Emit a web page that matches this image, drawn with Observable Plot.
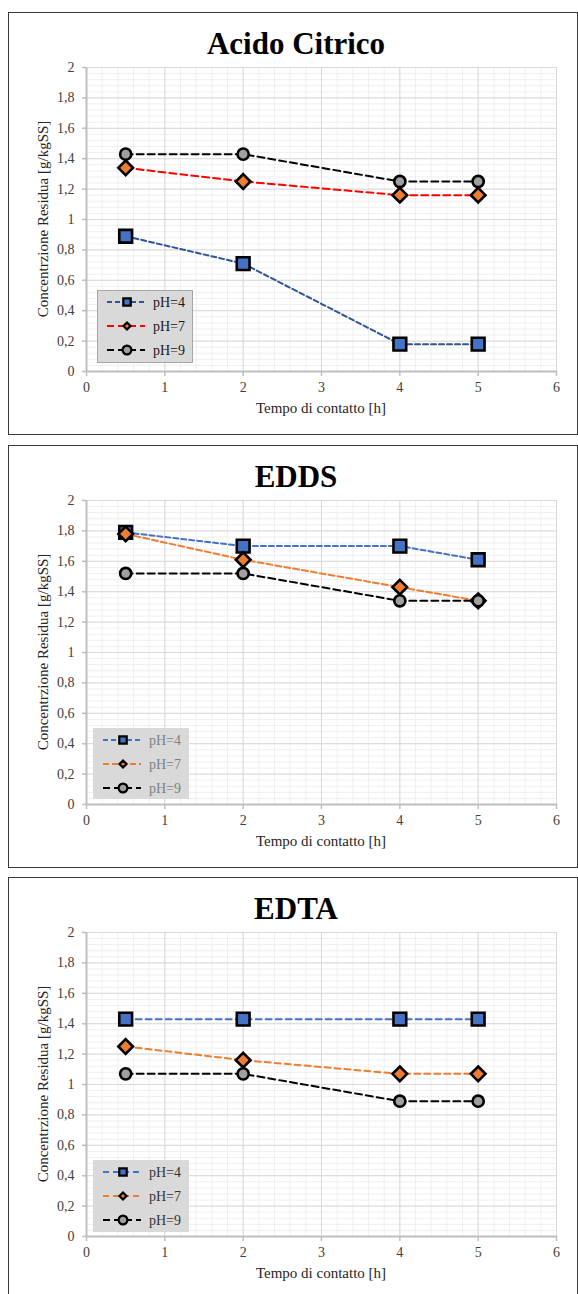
<!DOCTYPE html>
<html><head><meta charset="utf-8">
<script src="https://cdn.jsdelivr.net/npm/d3@7"></script>
<script src="https://cdn.jsdelivr.net/npm/@observablehq/plot@0.6"></script>
<style>
body{margin:0;background:#fff;font-family:"Liberation Serif","Times New Roman",serif;}
#page{position:relative;width:578px;height:1294px;overflow:hidden;background:#fff;}
.box{position:absolute;left:8px;width:570px;height:423px;border:1.5px solid #3a3a3a;box-sizing:border-box;}
.plotwrap{position:absolute;left:8px;}
.plotwrap svg text{font-family:"Liberation Serif","Times New Roman",serif !important;}
.title{position:absolute;left:96px;width:400px;text-align:center;font-weight:bold;font-size:31px;line-height:31px;color:#000;}
.ylab{position:absolute;width:320px;text-align:center;font-size:15px;line-height:16px;transform:rotate(-90deg);color:#262626;white-space:nowrap;}
.xlab{position:absolute;width:300px;text-align:center;font-size:15px;line-height:16px;color:#262626;white-space:nowrap;}
.legend{position:absolute;}
</style>
</head><body><div id="page"></div>
<script>
// ---- data ----
const times = [0.5, 2, 4, 5];
const seriesNames = ["pH=4", "pH=7", "pH=9"];
const panelTitles = ["Acido Citrico", "EDDS", "EDTA"];
const citricoPH4 = [0.89, 0.71, 0.18, 0.18];
const citricoPH7 = [1.34, 1.25, 1.16, 1.16];
const citricoPH9 = [1.43, 1.43, 1.25, 1.25];
const eddsPH4 = [1.79, 1.70, 1.70, 1.61];
const eddsPH7 = [1.78, 1.61, 1.43, 1.34];
const eddsPH9 = [1.52, 1.52, 1.34, 1.34];
const edtaPH4 = [1.43, 1.43, 1.43, 1.43];
const edtaPH7 = [1.25, 1.16, 1.07, 1.07];
const edtaPH9 = [1.07, 1.07, 0.89, 0.89];
const xTicks = [0, 1, 2, 3, 4, 5, 6];
const yTicks = [0, 0.2, 0.4, 0.6, 0.8, 1, 1.2, 1.4, 1.6, 1.8, 2];
const yTickLabels = ["0", "0,2", "0,4", "0,6", "0,8", "1", "1,2", "1,4", "1,6", "1,8", "2"];
const xLabel = "Tempo di contatto [h]";
const yLabel = "Concentrzione Residua [g/kgSS]";

// minor grid positions
const xMinor = d3.range(0, 31).map(i => i * 0.2);
const yMinor = d3.range(0, 51).map(i => i * 0.04);

const serif = "Liberation Serif, Times New Roman, serif";

const panels = [
  {title: panelTitles[0], top: 12, values: [citricoPH4, citricoPH7, citricoPH9],
   lines: ["#2f5597", "#ff0000", "#000000"], dashes: ["5,3", "7,4", "7,4"],
   legendText: "#1a1a1a", legendBorder: "1px solid #a6a6a6",
   legend: {left: 97, top: 290, w: 96, h: 73}},
  {title: panelTitles[1], top: 445, values: [eddsPH4, eddsPH7, eddsPH9],
   lines: ["#4472c4", "#ed7d31", "#000000"], dashes: ["5,3", "6,3", "7,4"],
   legendText: "#7f7f7f", legendBorder: "none",
   legend: {left: 93, top: 728, w: 96, h: 71}},
  {title: panelTitles[2], top: 877, values: [edtaPH4, edtaPH7, edtaPH9],
   lines: ["#4472c4", "#ed7d31", "#000000"], dashes: ["6,4", "6,4", "7,4"],
   legendText: "#333333", legendBorder: "none",
   legend: {left: 93, top: 1160, w: 96, h: 72}}
];
const symbols = ["square", "diamond2", "circle"];
const fills = ["#4472c4", "#ed7d31", "#a0a0a0"];
const radii = [7.2, 6.6, 5.6];

const page = document.getElementById("page");

panels.forEach((p) => {
  const box = document.createElement("div");
  box.className = "box"; box.style.top = p.top + "px";
  page.appendChild(box);

  const marks = [
    Plot.gridX(xMinor, {stroke: "#efefef", strokeOpacity: 1, strokeWidth: 1}),
    Plot.gridY(yMinor, {stroke: "#efefef", strokeOpacity: 1, strokeWidth: 1}),
    Plot.gridX(xTicks.slice(1), {stroke: "#d9d9d9", strokeOpacity: 1, strokeWidth: 1}),
    Plot.gridY(yTicks.slice(1), {stroke: "#d9d9d9", strokeOpacity: 1, strokeWidth: 1}),
    Plot.axisX(xTicks, {tickSize: 5, tickPadding: 6, stroke: "#bfbfbf", strokeWidth: 1.5, fontSize: 14, fontFamily: serif, fill: "#404040", label: null}),
    Plot.axisY(yTicks, {tickSize: 4, tickPadding: 8, stroke: "#bfbfbf", strokeWidth: 1.5, fontSize: 14, fontFamily: serif, fill: "#404040", label: null,
      tickFormat: d => yTickLabels[yTicks.indexOf(d)]}),
    Plot.ruleY([0], {stroke: "#bfbfbf", strokeWidth: 2}),
    Plot.ruleX([0], {stroke: "#bfbfbf", strokeWidth: 2})
  ];
  seriesNames.forEach((s, si) => {
    const d = times.map((t, i) => ({t, v: p.values[si][i], s}));
    marks.push(Plot.line(d, {x: "t", y: "v", stroke: p.lines[si], strokeWidth: 2, strokeDasharray: p.dashes[si]}));
    marks.push(Plot.dot(d, {x: "t", y: "v", symbol: symbols[si], r: radii[si], fill: fills[si], stroke: "#000", strokeWidth: 2.6}));
  });
  const chart = Plot.plot({
    width: 570, height: 423,
    marginLeft: 78, marginRight: 22, marginTop: 55, marginBottom: 64,
    x: {domain: [0, 6]}, y: {domain: [0, 2]},
    style: {fontFamily: serif, background: "transparent", color: "#404040"},
    marks
  });
  const wrap = document.createElement("div");
  wrap.className = "plotwrap"; wrap.style.top = p.top + "px";
  wrap.appendChild(chart);
  page.appendChild(wrap);

  const t = document.createElement("div");
  t.className = "title"; t.style.top = (p.top + 16) + "px"; t.textContent = p.title;
  page.appendChild(t);

  const yl = document.createElement("div");
  yl.className = "ylab"; yl.textContent = yLabel;
  yl.style.left = (43 - 160) + "px"; yl.style.top = (p.top + 207 - 8) + "px";
  page.appendChild(yl);

  const xl = document.createElement("div");
  xl.className = "xlab"; xl.textContent = xLabel;
  xl.style.left = (321 - 150) + "px"; xl.style.top = (p.top + 388) + "px";
  page.appendChild(xl);

  // legend
  const L = p.legend;
  const lg = document.createElement("div");
  lg.className = "legend";
  Object.assign(lg.style, {left: L.left + "px", top: L.top + "px", width: L.w + "px", height: L.h + "px",
    background: "#d9d9d9", border: p.legendBorder, boxSizing: "border-box"});
  const svg = d3.create("svg").attr("width", L.w).attr("height", L.h).style("display", "block")
    .style("position", "absolute").style("left", p.legendBorder === "none" ? "0px" : "-1px").style("top", p.legendBorder === "none" ? "0px" : "-1px");
  const rowsY = [12, 36, 60];
  const legR = [4.2, 3.2, 4.4];
  seriesNames.forEach((s, si) => {
    const y = rowsY[si];
    svg.append("line").attr("x1", 10).attr("x2", 48).attr("y1", y).attr("y2", y)
      .attr("stroke", p.lines[si]).attr("stroke-width", 2).attr("stroke-dasharray", p.dashes[si]);
    const sym = si === 0 ? d3.symbolSquare : si === 1 ? d3.symbolDiamond2 : d3.symbolCircle;
    svg.append("path").attr("d", d3.symbol(sym, Math.PI * legR[si] * legR[si])())
      .attr("transform", `translate(30,${y})`).attr("fill", fills[si]).attr("stroke", "#000").attr("stroke-width", 2.2);
    svg.append("text").attr("x", 56).attr("y", y + 5).attr("font-size", 14)
      .attr("font-family", serif).attr("fill", p.legendText).text(s);
  });
  lg.appendChild(svg.node());
  page.appendChild(lg);
});
</script>
</body></html>
